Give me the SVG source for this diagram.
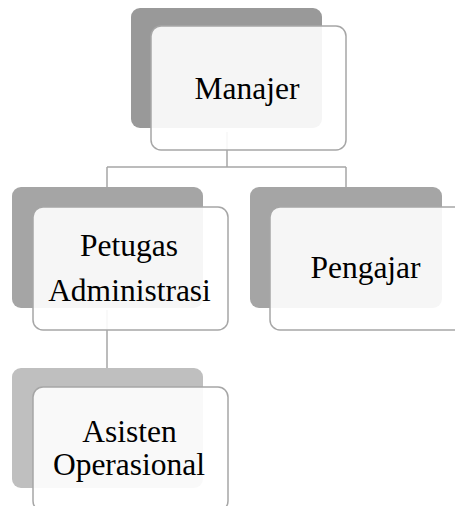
<svg xmlns="http://www.w3.org/2000/svg" width="455" height="506" viewBox="0 0 455 506">
<style>
.bg1{fill:#999999}
.bg2{fill:#a5a5a5}
.bg3{fill:#bfbfbf}
.fr{fill:#ffffff;fill-opacity:0.9;stroke:#a6a6a6;stroke-width:1.5}
.ln{stroke:#a6a6a6;stroke-width:1.5;fill:none}
.t{font-family:"Liberation Serif","Times New Roman",serif;font-size:31.5px;fill:#000;text-anchor:middle}
</style>
<rect width="455" height="506" fill="#ffffff"/>
<g id="connectors">
<path class="ln" d="M227 132V167M107 167H346M107 167V187M346 167V187"/>
<path class="ln" d="M107 310V368"/>
</g>
<g id="manajer">
<rect class="bg1" x="131" y="8" width="191" height="120" rx="9"/>
<rect class="fr" x="151" y="26" width="195" height="124" rx="10"/>
<text class="t" x="247" y="99">Manajer</text>
</g>
<g id="petugas">
<rect class="bg2" x="12" y="187" width="191" height="121" rx="9"/>
<rect class="fr" x="33" y="207" width="195" height="123" rx="10"/>
<text class="t" x="129" y="256">Petugas</text>
<text class="t" x="129.5" y="300.5">Administrasi</text>
</g>
<g id="pengajar">
<rect class="bg2" x="250" y="187" width="192" height="121" rx="9"/>
<rect class="fr" x="270" y="207" width="195" height="123" rx="10"/>
<text class="t" x="365.5" y="278">Pengajar</text>
</g>
<g id="asisten">
<rect class="bg3" x="12" y="368" width="191" height="120" rx="9"/>
<rect class="fr" x="33" y="387" width="195" height="124" rx="10"/>
<text class="t" x="129.5" y="442">Asisten</text>
<text class="t" x="129" y="475">Operasional</text>
</g>
</svg>
